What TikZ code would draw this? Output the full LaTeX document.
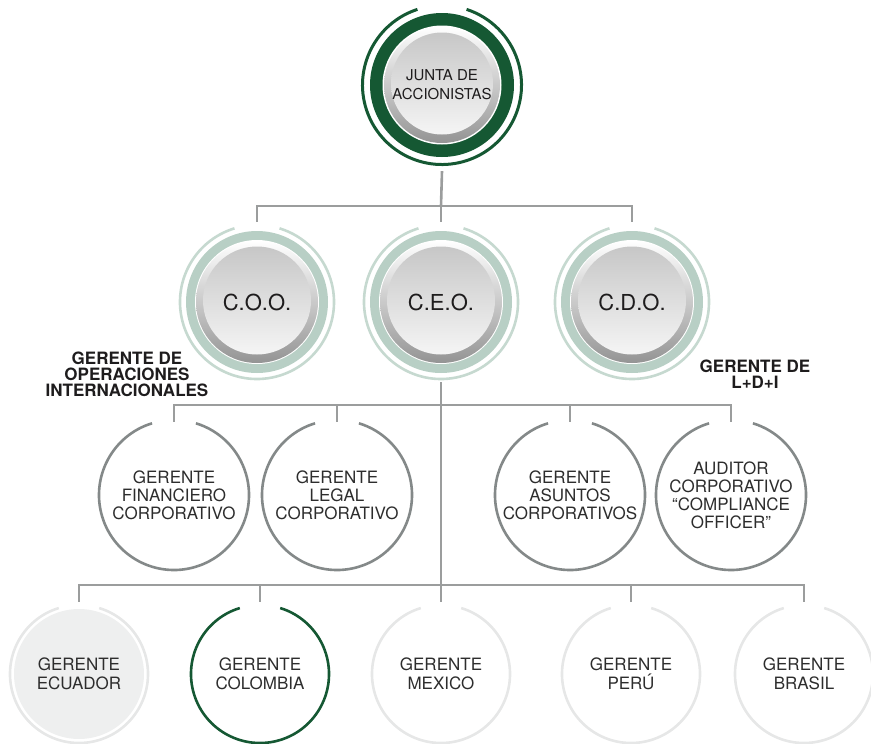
\documentclass[tikz,border=0pt]{standalone}
\usepackage{fontspec}
\setmainfont{TeX Gyre Heros}
\definecolor{lineg}{RGB}{155,157,157}
\definecolor{circg}{RGB}{132,137,137}
\definecolor{dgreen}{RGB}{21,88,51}
\definecolor{sage}{RGB}{184,207,197}
\definecolor{sagel}{RGB}{198,217,208}
\definecolor{faint}{RGB}{230,231,231}
\definecolor{efill}{RGB}{238,239,239}
\definecolor{txt}{RGB}{30,28,29}
\definecolor{txtl}{RGB}{45,45,45}
\newcommand\gapring[4]{\draw[#4] (#1) ++(90+#3:#2) arc[start angle=90+#3, end angle=450-#3, radius=#2];}
\newcommand\buttonat[3]{%
  \shade[top color=white, bottom color=black!42] (#1) circle (#2);
  \shade[top color=black!22, bottom color=white!96!black] ([yshift=1.5pt]#1) circle (#3);}
\tikzset{
  conn/.style={draw=lineg, line width=2.6pt},
  hub/.style={circle, inner sep=0pt, minimum size=#1, align=center},
  lvltwo/.style={hub=154pt, font=\fontsize{22}{24}\selectfont, text=txt},
  lvlthree/.style={hub=152pt, font=\fontsize{17}{18}\selectfont, text=txtl},
  lvlfour/.style={hub=138pt, font=\fontsize{17}{19}\selectfont, text=txtl},
  boldlbl/.style={align=center, font=\bfseries\fontsize{17}{16}\selectfont, text=txt},
}
\begin{document}
\begin{tikzpicture}[x=1pt,y=-1pt]
\useasboundingbox (0,0) rectangle (871,744);
% centres
\coordinate (cj) at (442,85);
\coordinate (c1) at (257,302);
\coordinate (c2) at (441,302);
\coordinate (c3) at (632,302);
\coordinate (d1) at (174,495);
\coordinate (d2) at (337,495);
\coordinate (d3) at (570,495);
\coordinate (d4) at (731,495);
\coordinate (e1) at (79,674);
\coordinate (e2) at (260,674);
\coordinate (e3) at (441,674);
\coordinate (e4) at (631,674);
\coordinate (e5) at (804,674);

% top circle
\gapring{cj}{79.5pt}{18}{draw=dgreen, line width=3pt}
\fill[dgreen] (cj) circle (72pt);
\fill[white] (cj) circle (59.5pt);
\buttonat{cj}{58pt}{51pt}

% level two
\foreach \c in {c1,c2,c3}{
  \gapring{\c}{77pt}{17}{draw=sagel, line width=2.6pt}
  \fill[sage] (\c) circle (71pt);
  \fill[white] (\c) circle (62pt);
  \buttonat{\c}{61pt}{54pt}
}

% level three
\foreach \c in {d1,d2,d3,d4}{
  \gapring{\c}{75pt}{17}{draw=circg, line width=2.6pt}
}

% level four
\fill[efill] (e1) circle (65pt);
\gapring{e1}{69pt}{17}{draw=faint, line width=2.6pt}
\gapring{e2}{69pt}{17}{draw=dgreen, line width=2.6pt}
\foreach \c in {e3,e4,e5}{
  \gapring{\c}{69pt}{17}{draw=faint, line width=2.6pt}
}

% nodes
\node[hub=160pt, font=\fontsize{15}{19}\selectfont, text=txt] (junta) at (cj) {JUNTA DE\\ACCIONISTAS};
\node[lvltwo] (coo) at (c1) {C.O.O.};
\node[lvltwo] (ceo) at (c2) {C.E.O.};
\node[lvltwo] (cdo) at (c3) {C.D.O.};
\node[lvlthree] (fin) at (d1) {GERENTE\\FINANCIERO\\CORPORATIVO};
\node[lvlthree] (leg) at (d2) {GERENTE\\LEGAL\\CORPORATIVO};
\node[lvlthree] (asu) at (d3) {GERENTE\\ASUNTOS\\CORPORATIVOS};
\node[lvlthree] (aud) at (d4) {AUDITOR\\CORPORATIVO\\``COMPLIANCE\\OFFICER''};
\node[lvlfour] (ecu) at (e1) {GERENTE\\ECUADOR};
\node[lvlfour] (col) at (e2) {GERENTE\\COLOMBIA};
\node[lvlfour] (mex) at (e3) {GERENTE\\MEXICO};
\node[lvlfour] (per) at (e4) {GERENTE\\PERÚ};
\node[lvlfour] (bra) at (e5) {GERENTE\\BRASIL};
\node[boldlbl] (lops) at (127,374) {GERENTE DE\\OPERACIONES\\INTERNACIONALES};
\node[boldlbl] (lldi) at (755,374) {GERENTE DE\\L+D+I};

% connectors
\coordinate (b2) at (441,206);
\coordinate (b3) at (441,405);
\coordinate (b4) at (441,585);
\draw[conn] ([yshift=-6pt]junta.south) -- (b2);
\draw[conn] ([yshift=3pt]coo.north) |- (b2) -| ([yshift=3pt]cdo.north);
\draw[conn] (b2) -- ([yshift=3pt]ceo.north);
\draw[conn] ([yshift=-3pt]fin.north) |- (b3) -| ([yshift=-3pt]aud.north);
\draw[conn] ([yshift=-3pt]leg.north) -- (leg.north |- b3);
\draw[conn] ([yshift=-3pt]asu.north) -- (asu.north |- b3);
\draw[conn] ([yshift=-3pt]ceo.south) -- (b4);
\draw[conn] ([yshift=3pt]ecu.north) |- (b4) -| ([yshift=3pt]bra.north);
\draw[conn] ([yshift=3pt]col.north) -- (col.north |- b4);
\draw[conn] (b4) -- ([yshift=3pt]mex.north);
\draw[conn] ([yshift=3pt]per.north) -- (per.north |- b4);
\end{tikzpicture}
\end{document}
